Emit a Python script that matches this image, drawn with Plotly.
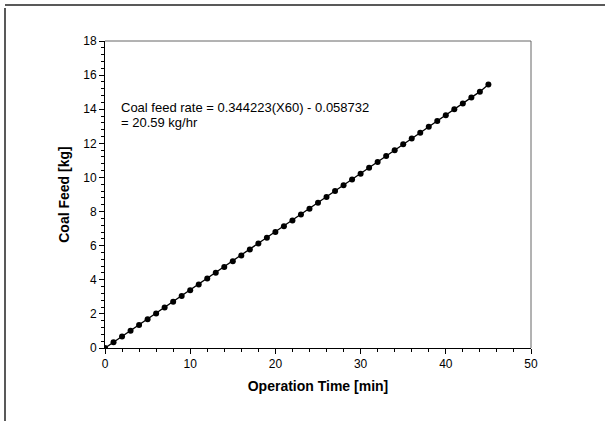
import plotly.graph_objects as go

# Data
time_min = [0, 1, 2, 3, 4, 5, 6, 7, 8, 9, 10, 11, 12, 13, 14, 15, 16, 17, 18, 19,
            20, 21, 22, 23, 24, 25, 26, 27, 28, 29, 30, 31, 32, 33, 34, 35, 36, 37,
            38, 39, 40, 41, 42, 43, 44, 45]
coal_feed_kg = [0.00, 0.34, 0.67, 1.01, 1.35, 1.69, 2.03, 2.37, 2.71, 3.05, 3.39,
                3.73, 4.07, 4.41, 4.75, 5.09, 5.43, 5.78, 6.12, 6.46, 6.80, 7.14,
                7.48, 7.83, 8.17, 8.51, 8.85, 9.20, 9.54, 9.88, 10.22, 10.57, 10.91,
                11.25, 11.59, 11.94, 12.28, 12.62, 12.97, 13.31, 13.65, 14.00,
                14.34, 14.68, 15.03, 15.45]

x_ticks = [0, 10, 20, 30, 40, 50]
y_ticks = [0, 2, 4, 6, 8, 10, 12, 14, 16, 18]

eq_line1 = "Coal feed rate = 0.344223(X60) - 0.058732"
eq_line2 = "= 20.59 kg/hr"
x_title = "Operation Time [min]"
y_title = "Coal Feed [kg]"

FONT = "Arial, 'Liberation Sans', sans-serif"

fig = go.Figure()
fig.add_trace(go.Scatter(
    x=time_min, y=coal_feed_kg, mode="lines+markers",
    line=dict(color="black", width=1.3),
    marker=dict(color="black", size=6),
    showlegend=False, hoverinfo="x+y",
))

W, H = 605, 421
L, R, T, B = 105, 74, 41, 73
pw, ph = W - L - R, H - T - B

def px2paper_x(p):
    return (p - L) / pw

def px2paper_y(p):
    return (H - B - p) / ph

fig.update_layout(
    width=W, height=H,
    margin=dict(l=L, r=R, t=T, b=B, pad=0),
    paper_bgcolor="white", plot_bgcolor="white",
    font=dict(family=FONT, color="black", size=12),
    xaxis=dict(
        range=[0, 50], tickvals=x_ticks, ticktext=[str(v) for v in x_ticks],
        showgrid=False, zeroline=False, showline=True, linecolor="black", linewidth=1,
        ticks="outside", ticklen=5, tickcolor="black", tickwidth=1,
        minor=dict(dtick=2, tick0=0, ticks="outside", ticklen=3, tickcolor="black", showgrid=False),
        tickfont=dict(size=12),
        title=dict(text="<b>" + x_title + "</b>", font=dict(size=14), standoff=10),
    ),
    yaxis=dict(
        range=[0, 18], tickvals=y_ticks, ticktext=[str(v) for v in y_ticks],
        showgrid=False, zeroline=False, showline=True, linecolor="black", linewidth=1,
        ticks="outside", ticklen=5, tickcolor="black", tickwidth=1,
        minor=dict(dtick=0.4, tick0=0, ticks="outside", ticklen=3, tickcolor="black", showgrid=False),
        tickfont=dict(size=12),
        title=dict(text="<b>" + y_title + "</b>", font=dict(size=14), standoff=10),
    ),
    shapes=[
        dict(type="line", xref="paper", yref="paper", x0=0, x1=1, y0=1, y1=1,
             line=dict(color="#666666", width=1)),
        dict(type="line", xref="paper", yref="paper", x0=1, x1=1, y0=0, y1=1,
             line=dict(color="#666666", width=1)),
        dict(type="line", xref="paper", yref="paper",
             x0=px2paper_x(5), x1=px2paper_x(605), y0=px2paper_y(5), y1=px2paper_y(5),
             line=dict(color="#222222", width=1.5)),
        dict(type="line", xref="paper", yref="paper",
             x0=px2paper_x(5), x1=px2paper_x(5), y0=px2paper_y(8), y1=px2paper_y(421),
             line=dict(color="#222222", width=1.5)),
    ],
    annotations=[
        dict(text=eq_line1, xref="paper", yref="paper", x=px2paper_x(119), y=px2paper_y(107),
             xanchor="left", yanchor="middle", showarrow=False, font=dict(size=13)),
        dict(text=eq_line2, xref="paper", yref="paper", x=px2paper_x(119), y=px2paper_y(122),
             xanchor="left", yanchor="middle", showarrow=False, font=dict(size=13)),
    ],
)

fig.write_html("out.html")
